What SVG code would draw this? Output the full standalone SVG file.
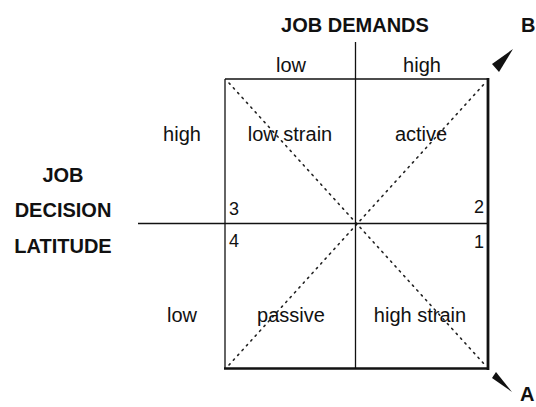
<svg xmlns="http://www.w3.org/2000/svg" width="536" height="407" viewBox="0 0 536 407">
<style>
text{font-family:"Liberation Sans",Arial,sans-serif;font-size:20px;fill:#111}
.b{font-weight:bold}
.n{font-size:18px}
.ln{stroke:#111;fill:none}
.dot{stroke:#222;stroke-width:1.6;stroke-dasharray:1.5 5;stroke-linecap:round;fill:none}
</style>
<rect width="536" height="407" fill="#fff"/>
<g id="connectors">
<line class="dot" x1="229" y1="83" x2="485" y2="365"/>
<line class="dot" x1="229" y1="365" x2="485" y2="83"/>
<line class="ln" x1="225" y1="79" x2="488" y2="79" stroke-width="1.3"/>
<line class="ln" x1="225" y1="79" x2="225" y2="369" stroke-width="1.3"/>
<line class="ln" x1="488" y1="78" x2="488" y2="370" stroke-width="2.8"/>
<line class="ln" x1="224" y1="368.5" x2="489" y2="368.5" stroke-width="2.6"/>
<line class="ln" x1="355.5" y1="42" x2="355.5" y2="369" stroke-width="1.3"/>
<line class="ln" x1="138" y1="223.5" x2="488" y2="223.5" stroke-width="1.5"/>
<polygon points="513,49 499,72 492,64" fill="#111"/>
<polygon points="512,392 492,378 496,372" fill="#111"/>
</g>
<g id="title"><text class="b" x="355" y="32" text-anchor="middle">JOB DEMANDS</text></g>
<g id="labelB"><text class="b" x="521" y="32">B</text></g>
<g id="labelA"><text class="b" x="520" y="401">A</text></g>
<g id="axisY">
<text class="b" x="63" y="182" text-anchor="middle">JOB</text>
<text class="b" x="63" y="217" text-anchor="middle">DECISION</text>
<text class="b" x="63" y="253" text-anchor="middle">LATITUDE</text>
</g>
<g id="colLow"><text x="291" y="72" text-anchor="middle">low</text></g>
<g id="colHigh"><text x="422" y="72" text-anchor="middle">high</text></g>
<g id="rowHigh"><text x="182" y="141" text-anchor="middle">high</text></g>
<g id="rowLow"><text x="182" y="322" text-anchor="middle">low</text></g>
<g id="q3"><text x="290" y="141" text-anchor="middle">low strain</text></g>
<g id="q2"><text x="421" y="141" text-anchor="middle">active</text></g>
<g id="q4"><text x="291" y="322" text-anchor="middle">passive</text></g>
<g id="q1"><text x="420" y="322" text-anchor="middle">high strain</text></g>
<g id="n3"><text class="n" x="229" y="215">3</text></g>
<g id="n2"><text class="n" x="484" y="213" text-anchor="end">2</text></g>
<g id="n4"><text class="n" x="229" y="247">4</text></g>
<g id="n1"><text class="n" x="484" y="248" text-anchor="end">1</text></g>
</svg>
